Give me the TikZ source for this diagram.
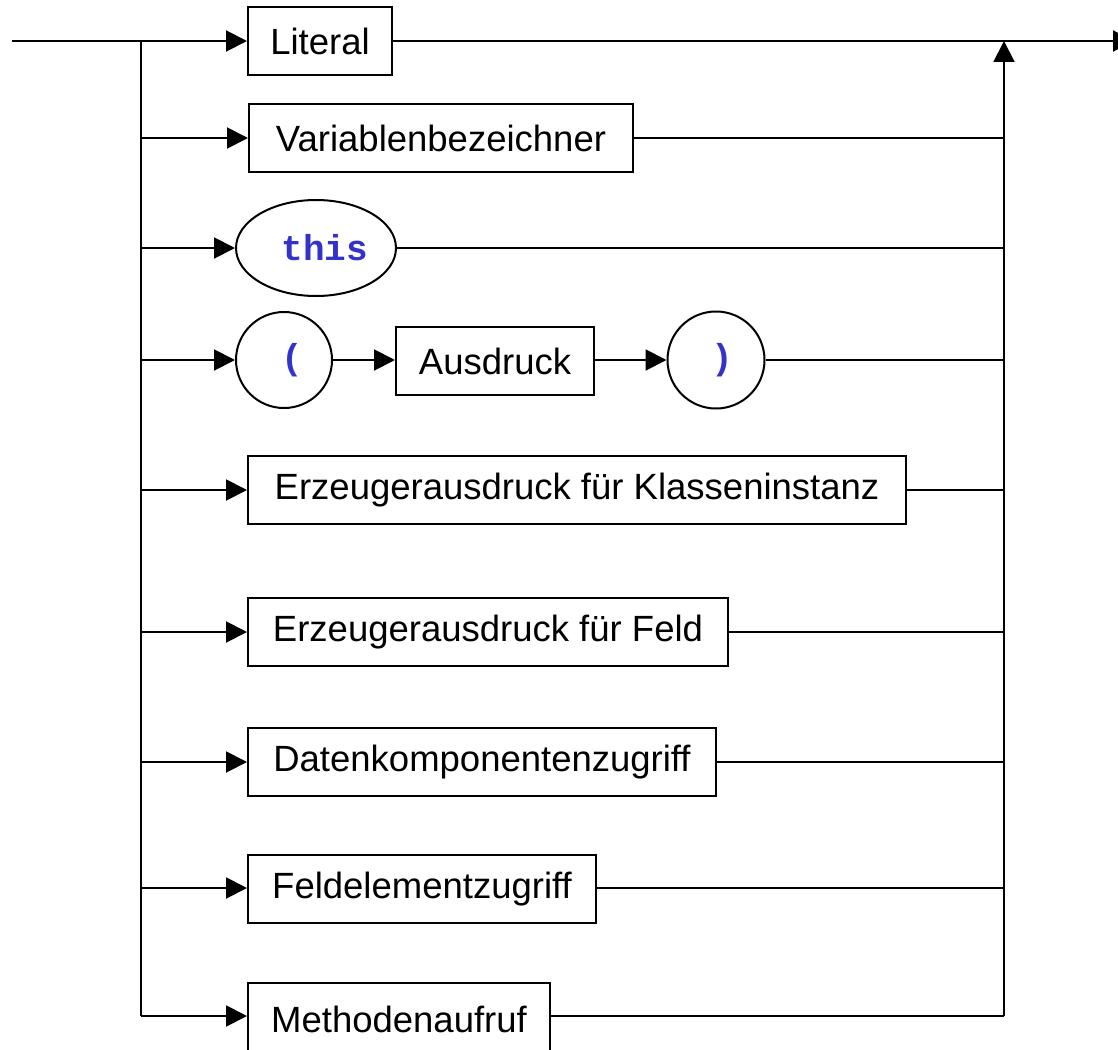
\documentclass[tikz,border=0pt]{standalone}
\usepackage{fontspec}
\setmainfont{Liberation Sans}
\newfontfamily\codefont{Liberation Mono}
\usetikzlibrary{arrows.meta,shapes.geometric}
\definecolor{kwblue}{RGB}{51,51,204}
\tikzset{
  syn/.style={line width=2pt},
  arr/.style={syn,-{Triangle[length=21pt,width=21pt]}},
  ntbox/.style={draw,line width=2pt,rectangle,inner sep=0pt,minimum height=68pt,
    font=\fontsize{36.5}{40}\selectfont},
  term/.style={draw,line width=2pt,ellipse,inner sep=0pt,
    font=\codefont\bfseries\fontsize{36}{40}\selectfont,text=kwblue},
}
\begin{document}
\begin{tikzpicture}[x=1pt,y=-1pt]
\useasboundingbox (0,0) rectangle (1118,1049);
% nodes
\node[ntbox,minimum width=144pt] (lit) at (320,41) {Literal};
\node[ntbox,minimum width=384pt] (var) at (441,138) {Variablenbezeichner};
\node[term,minimum width=160pt,minimum height=96pt] (this) at (316,248) {\hspace*{18pt}this};
\node[term,minimum width=96pt,minimum height=96pt] (lp) at (284,360) {\hspace*{16pt}(};
\node[ntbox,minimum width=198pt] (aus) at (495,361) {Ausdruck};
\node[term,minimum width=97pt,minimum height=97pt] (rp) at (716,360) {\hspace*{12pt})};
\node[ntbox,minimum width=658pt] (kla) at (577,490) {Erzeugerausdruck für Klasseninstanz};
\node[ntbox,minimum width=480pt] (feld) at (488,632) {Erzeugerausdruck für Feld};
\node[ntbox,minimum width=468pt] (dat) at (482,762) {Datenkomponentenzugriff};
\node[ntbox,minimum width=348pt] (fel) at (422,889) {Feldelementzugriff};
\node[ntbox,minimum width=302pt,minimum height=72pt] (met) at (399,1019) {Methodenaufruf};
% coordinates
\coordinate (start) at (12,41);
\coordinate (end) at (1134,41);
\coordinate (LT) at (141,41);
\coordinate (RT) at (1004,41);
\foreach \n/\y in {1/138,2/248,3/360,4/490,5/632,6/762,7/888,8/1016}{
  \coordinate (L\n) at (141,\y);
  \coordinate (R\n) at (1004,\y);
}
% main line
\draw[arr] (start) -- (lit.west);
\draw[arr] (lit.east) -- (end);
% trunks
\draw[syn] (LT) -- (L8);
\draw[arr] (R8) -- (RT);
% branches in
\draw[arr] (L1) -- (var.west);
\draw[arr] (L2) -- (this.west);
\draw[arr] (L3) -- (lp.west);
\draw[arr] (lp.east) -- (lp.east -| aus.west);
\draw[arr] (aus.east |- rp.west) -- (rp.west);
\draw[arr] (L4) -- (kla.west);
\draw[arr] (L5) -- (feld.west);
\draw[arr] (L6) -- (dat.west);
\draw[arr] (L7) -- (L7 -| fel.west);
\draw[arr] (L8) -- (L8 -| met.west);
% branches out
\draw[syn] (var.east) -- (R1);
\draw[syn] (this.east) -- (R2);
\draw[syn] (rp.east) -- (R3);
\draw[syn] (kla.east) -- (R4);
\draw[syn] (feld.east) -- (R5);
\draw[syn] (dat.east) -- (R6);
\draw[syn] (R7 -| fel.east) -- (R7);
\draw[syn] (R8 -| met.east) -- (R8);
\end{tikzpicture}
\end{document}
